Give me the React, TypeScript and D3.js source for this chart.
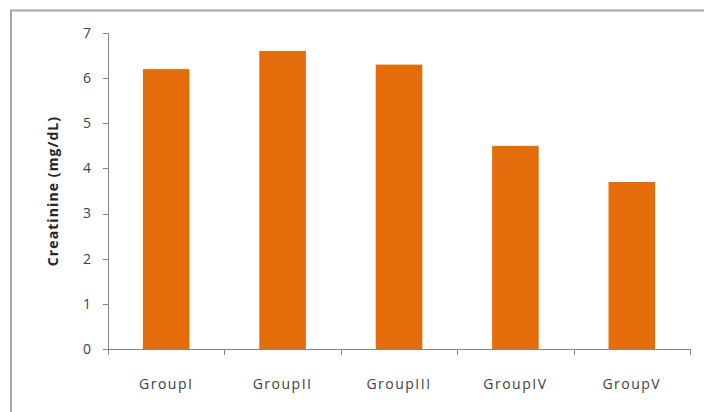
import React from "react";
import * as d3 from "d3";

const categories = ["GroupI", "GroupII", "GroupIII", "GroupIV", "GroupV"];
const values = [6.2, 6.6, 6.3, 4.5, 3.7];
const yTicks = [0, 1, 2, 3, 4, 5, 6, 7];
const yLabel = "Creatinine (mg/dL)";

export default function App() {
  const W = 704, H = 412;
  const left = 108, right = 690, top = 33, bottom = 349;
  const x = d3.scaleBand<string>().domain(categories).range([left, right]).paddingInner(0.6).paddingOuter(0.3);
  const xb = d3.scaleBand<string>().domain(categories).range([left, right]);
  const y = d3.scaleLinear().domain([0, 7]).range([bottom, top]);
  const font = "'Open Sans', 'Liberation Sans', sans-serif";
  const edges = categories.map((c) => xb(c) as number).concat([right]);
  return (
    <svg width={W} height={H} style={{ position: "absolute", left: 0, top: 0, background: "#fff" }}>
      <rect x={11} y={10.5} width={720} height={420} fill="#fff" stroke="#a6a6a6" strokeWidth={2} />
      {categories.map((c, i) => (
        <rect key={c} x={x(c)} y={y(values[i])} width={x.bandwidth()} height={bottom - y(values[i])} fill="#e46c0a" />
      ))}
      <line x1={left + 0.5} x2={left + 0.5} y1={top} y2={bottom} stroke="#868686" strokeWidth={1} />
      <line x1={left} x2={right + 0.5} y1={bottom + 0.5} y2={bottom + 0.5} stroke="#868686" strokeWidth={1} />
      {yTicks.map((t) => (
        <g key={t}>
          <line x1={left - 5} x2={left} y1={Math.round(y(t)) + 0.5} y2={Math.round(y(t)) + 0.5} stroke="#868686" />
          <text x={91} y={y(t)} dy="0.35em" textAnchor="end" fontFamily={font} fontSize={14} fill="#404040">{t}</text>
        </g>
      ))}
      {edges.map((e, i) => (
        <line key={i} x1={Math.round(e) + 0.5} x2={Math.round(e) + 0.5} y1={bottom} y2={bottom + 6} stroke="#868686" />
      ))}
      {categories.map((c) => (
        <text key={c} x={(xb(c) as number) + xb.bandwidth() / 2} y={389} textAnchor="middle" fontFamily={font} fontSize={14} letterSpacing={1.5} fill="#404040">{c}</text>
      ))}
      <text transform={`translate(58,191) rotate(-90)`} textAnchor="middle" fontFamily={font} fontSize={14} fontWeight="bold" letterSpacing={1.1} fill="#262626">{yLabel}</text>
    </svg>
  );
}
